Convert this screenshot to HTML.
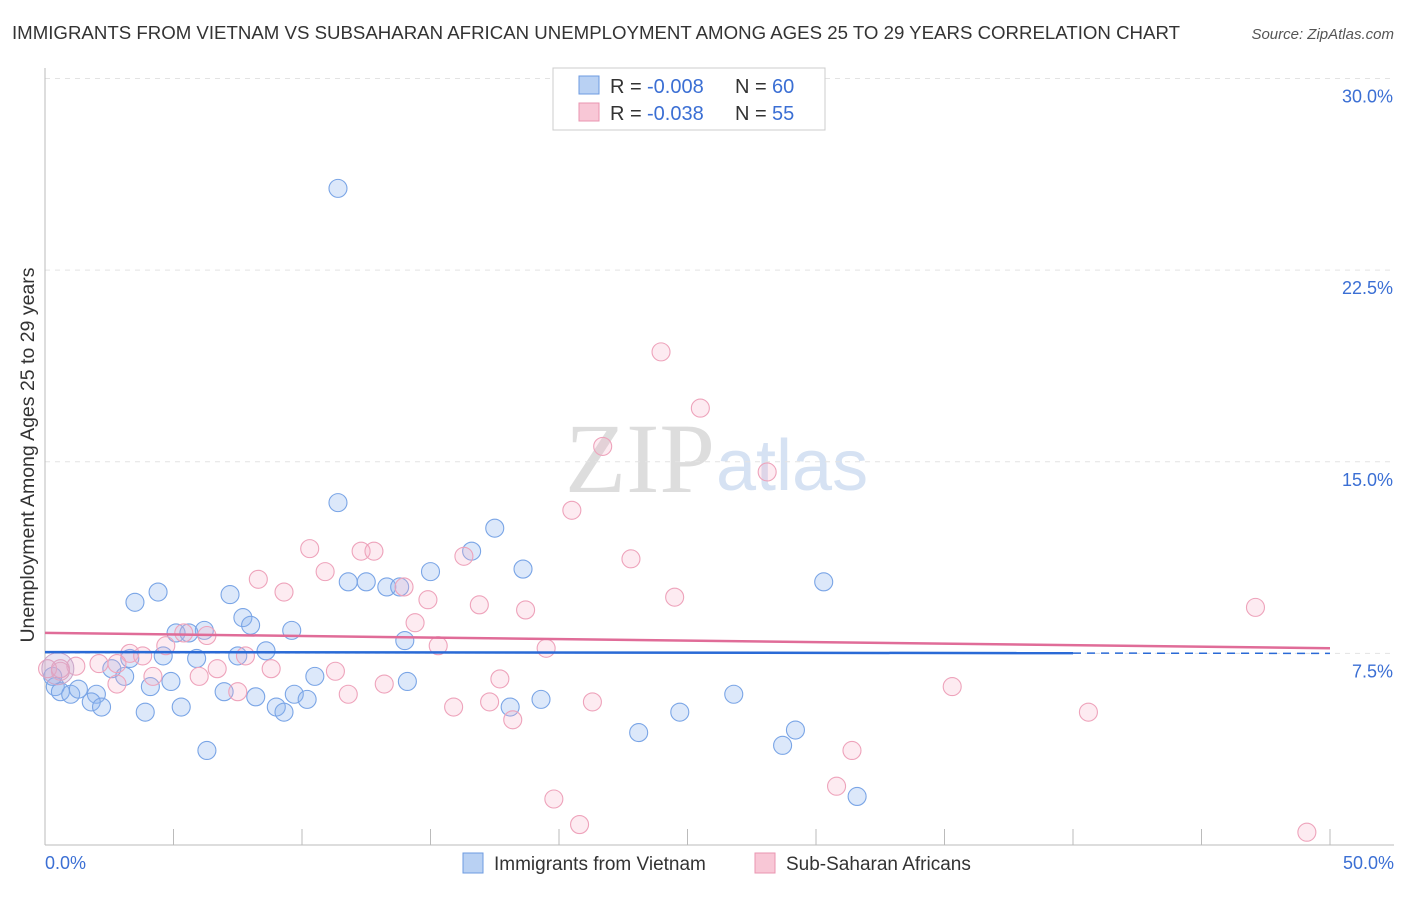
<!DOCTYPE html>
<html><head><meta charset="utf-8"><style>
body{margin:0;background:#fff;font-family:"Liberation Sans",sans-serif;}
</style></head><body>
<svg width="1406" height="892" xmlns="http://www.w3.org/2000/svg" font-family="Liberation Sans, sans-serif">
<text x="12" y="39" font-size="18" fill="#333" textLength="1168" lengthAdjust="spacingAndGlyphs">IMMIGRANTS FROM VIETNAM VS SUBSAHARAN AFRICAN UNEMPLOYMENT AMONG AGES 25 TO 29 YEARS CORRELATION CHART</text>
<text x="1394" y="39" font-size="15" fill="#555" font-style="italic" text-anchor="end">Source: ZipAtlas.com</text>
<text x="715" y="492" font-size="100" fill="#ddd" text-anchor="end" font-family="Liberation Serif, serif">ZIP</text>
<text x="716" y="490" font-size="72" fill="#d6e2f3">atlas</text>
<g id="grid"></g><g id="axes"></g>
<g id="pts"></g><g id="lines"></g>
<text transform="translate(34,455) rotate(-90)" font-size="19.5" fill="#333" text-anchor="middle">Unemployment Among Ages 25 to 29 years</text>
<text x="45" y="869" font-size="18" fill="#3b6fd4">0.0%</text>
<text x="1394" y="869" font-size="18" fill="#3b6fd4" text-anchor="end">50.0%</text>
<g>
<rect x="553" y="68" width="272" height="62" fill="#fff" stroke="#ccc"/>
<rect x="579" y="76" width="20" height="18" fill="#b9d1f3" stroke="#6d9be0"/>
<rect x="579" y="103" width="20" height="18" fill="#f8c7d6" stroke="#ea94b0"/>
<text x="610" y="93" font-size="20" fill="#333">R =</text>
<text x="647" y="93" font-size="20" fill="#3b6fd4">-0.008</text>
<text x="735" y="93" font-size="20" fill="#333">N =</text>
<text x="772" y="93" font-size="20" fill="#3b6fd4">60</text>
<text x="610" y="120" font-size="20" fill="#333">R =</text>
<text x="647" y="120" font-size="20" fill="#3b6fd4">-0.038</text>
<text x="735" y="120" font-size="20" fill="#333">N =</text>
<text x="772" y="120" font-size="20" fill="#3b6fd4">55</text>
</g>
<g>
<rect x="463" y="853" width="20" height="20" fill="#b9d1f3" stroke="#6d9be0"/>
<text x="494" y="870" font-size="19" fill="#333">Immigrants from Vietnam</text>
<rect x="755" y="853" width="20" height="20" fill="#f8c7d6" stroke="#ea94b0"/>
<text x="786" y="870" font-size="19" fill="#333">Sub-Saharan Africans</text>
</g>
</svg>
<script>
const yTicks=[7.5,15,22.5,30];
const yTickLabels=["7.5%","15.0%","22.5%","30.0%"];
const blueX=[11.4,11.4,17.5,16.6,18.6,15.0,30.3,11.8,12.5,13.3,13.8,4.4,3.5,7.2,7.7,8.0,14.0,9.6,6.2,5.1,5.6,8.6,7.5,5.9,4.6,2.6,3.3,3.1,10.5,14.1,4.9,4.1,0.4,0.6,1.0,1.3,2.0,1.8,2.2,6.97,8.2,9.7,10.2,26.8,19.3,18.1,24.7,5.3,9.0,9.3,3.9,29.2,23.1,28.7,6.3,31.6,0.3];
const blueY=[25.7,13.4,12.4,11.5,10.8,10.7,10.3,10.3,10.3,10.1,10.1,9.9,9.5,9.8,8.9,8.6,8.0,8.4,8.4,8.3,8.3,7.6,7.4,7.3,7.4,6.9,7.3,6.6,6.6,6.4,6.4,6.2,6.2,6.0,5.9,6.1,5.9,5.6,5.4,6.0,5.8,5.9,5.7,5.9,5.7,5.4,5.2,5.4,5.4,5.2,5.2,4.5,4.4,3.9,3.7,1.9,6.6];
const pinkX=[23.97,25.5,21.7,28.1,20.5,10.3,12.3,12.8,16.3,22.8,10.9,8.3,13.97,9.3,14.9,16.9,24.5,18.7,47.1,14.4,6.3,5.4,4.7,15.3,19.5,3.3,3.8,2.8,2.1,1.2,0.6,0.1,7.8,6.7,8.8,6.0,11.3,17.7,4.2,2.8,13.2,7.5,11.8,35.3,17.3,21.3,15.9,18.2,40.6,31.4,30.8,19.8,20.8,49.1,0.6];
const pinkY=[19.3,17.1,15.6,14.6,13.1,11.6,11.5,11.5,11.3,11.2,10.7,10.4,10.1,9.9,9.6,9.4,9.7,9.2,9.3,8.7,8.2,8.3,7.8,7.8,7.7,7.5,7.4,7.1,7.1,7.0,6.8,6.9,7.4,6.9,6.9,6.6,6.8,6.5,6.6,6.3,6.3,6.0,5.9,6.2,5.6,5.6,5.4,4.9,5.2,3.7,2.3,1.8,0.8,0.5,6.9];
const blueTrend=[7.55,7.5];
const pinkTrend=[8.3,7.7];
const X=v=>45+v*25.7, Y=v=>845-v*25.55;
const NS="http://www.w3.org/2000/svg";
function mk(tag,attrs,parent){const e=document.createElementNS(NS,tag);for(const k in attrs)e.setAttribute(k,attrs[k]);parent.appendChild(e);return e;}
const grid=document.getElementById('grid'),axes=document.getElementById('axes');
yTicks.forEach((t,i)=>{
 const l=mk('line',{x1:45,x2:1394,y1:Y(t),y2:Y(t),stroke:'#e3e3e3','stroke-dasharray':'5,5'},grid);
 
 
 const tx=mk('text',{x:1393,y:Y(t)+24,'font-size':18,fill:'#3b6fd4','text-anchor':'end'},axes);
 tx.textContent=yTickLabels[i];
 
 
});
const ax=mk('line',{x1:45,x2:1394,y1:845,y2:845,stroke:'#bbb'},axes);


const ay=mk('line',{x1:45,x2:45,y1:68,y2:845,stroke:'#bbb'},axes);


for(let i=0;i<=10;i++){const t=mk('line',{x1:X(i*5),x2:X(i*5),y1:829,y2:845,stroke:'#bbb'},axes);
 
 }
const pts=document.getElementById('pts');
blueX.forEach((x,i)=>{const c=mk('circle',{cx:X(x),cy:Y(blueY[i]),r:9,fill:'rgba(140,180,240,0.3)',stroke:'#7aa5e6','stroke-width':1.1},pts);
 
 });
pinkX.forEach((x,i)=>{const c=mk('circle',{cx:X(x),cy:Y(pinkY[i]),r:9,fill:'rgba(248,175,200,0.25)',stroke:'#eea3bb','stroke-width':1.1},pts);
 
 });
const big=mk('circle',{cx:X(0.5),cy:Y(6.9),r:16,fill:'rgba(190,165,210,0.3)',stroke:'#cba5c8'},pts);


const lines=document.getElementById('lines');
const bAt=x=>blueTrend[0]+(blueTrend[1]-blueTrend[0])*x/50;
const pAt=x=>pinkTrend[0]+(pinkTrend[1]-pinkTrend[0])*x/50;
const bl=mk('line',{x1:X(0),y1:Y(bAt(0)),x2:X(40),y2:Y(bAt(40)),stroke:'#2a6ad6','stroke-width':2.5},lines);


const bd=mk('line',{x1:X(40),y1:Y(bAt(40)),x2:X(50),y2:Y(bAt(50)),stroke:'#2a6ad6','stroke-width':1.5,'stroke-dasharray':'8,6'},lines);


const pl=mk('line',{x1:X(0),y1:Y(pAt(0)),x2:X(50),y2:Y(pAt(50)),stroke:'#e06c98','stroke-width':2.5},lines);


</script>
</body></html>
